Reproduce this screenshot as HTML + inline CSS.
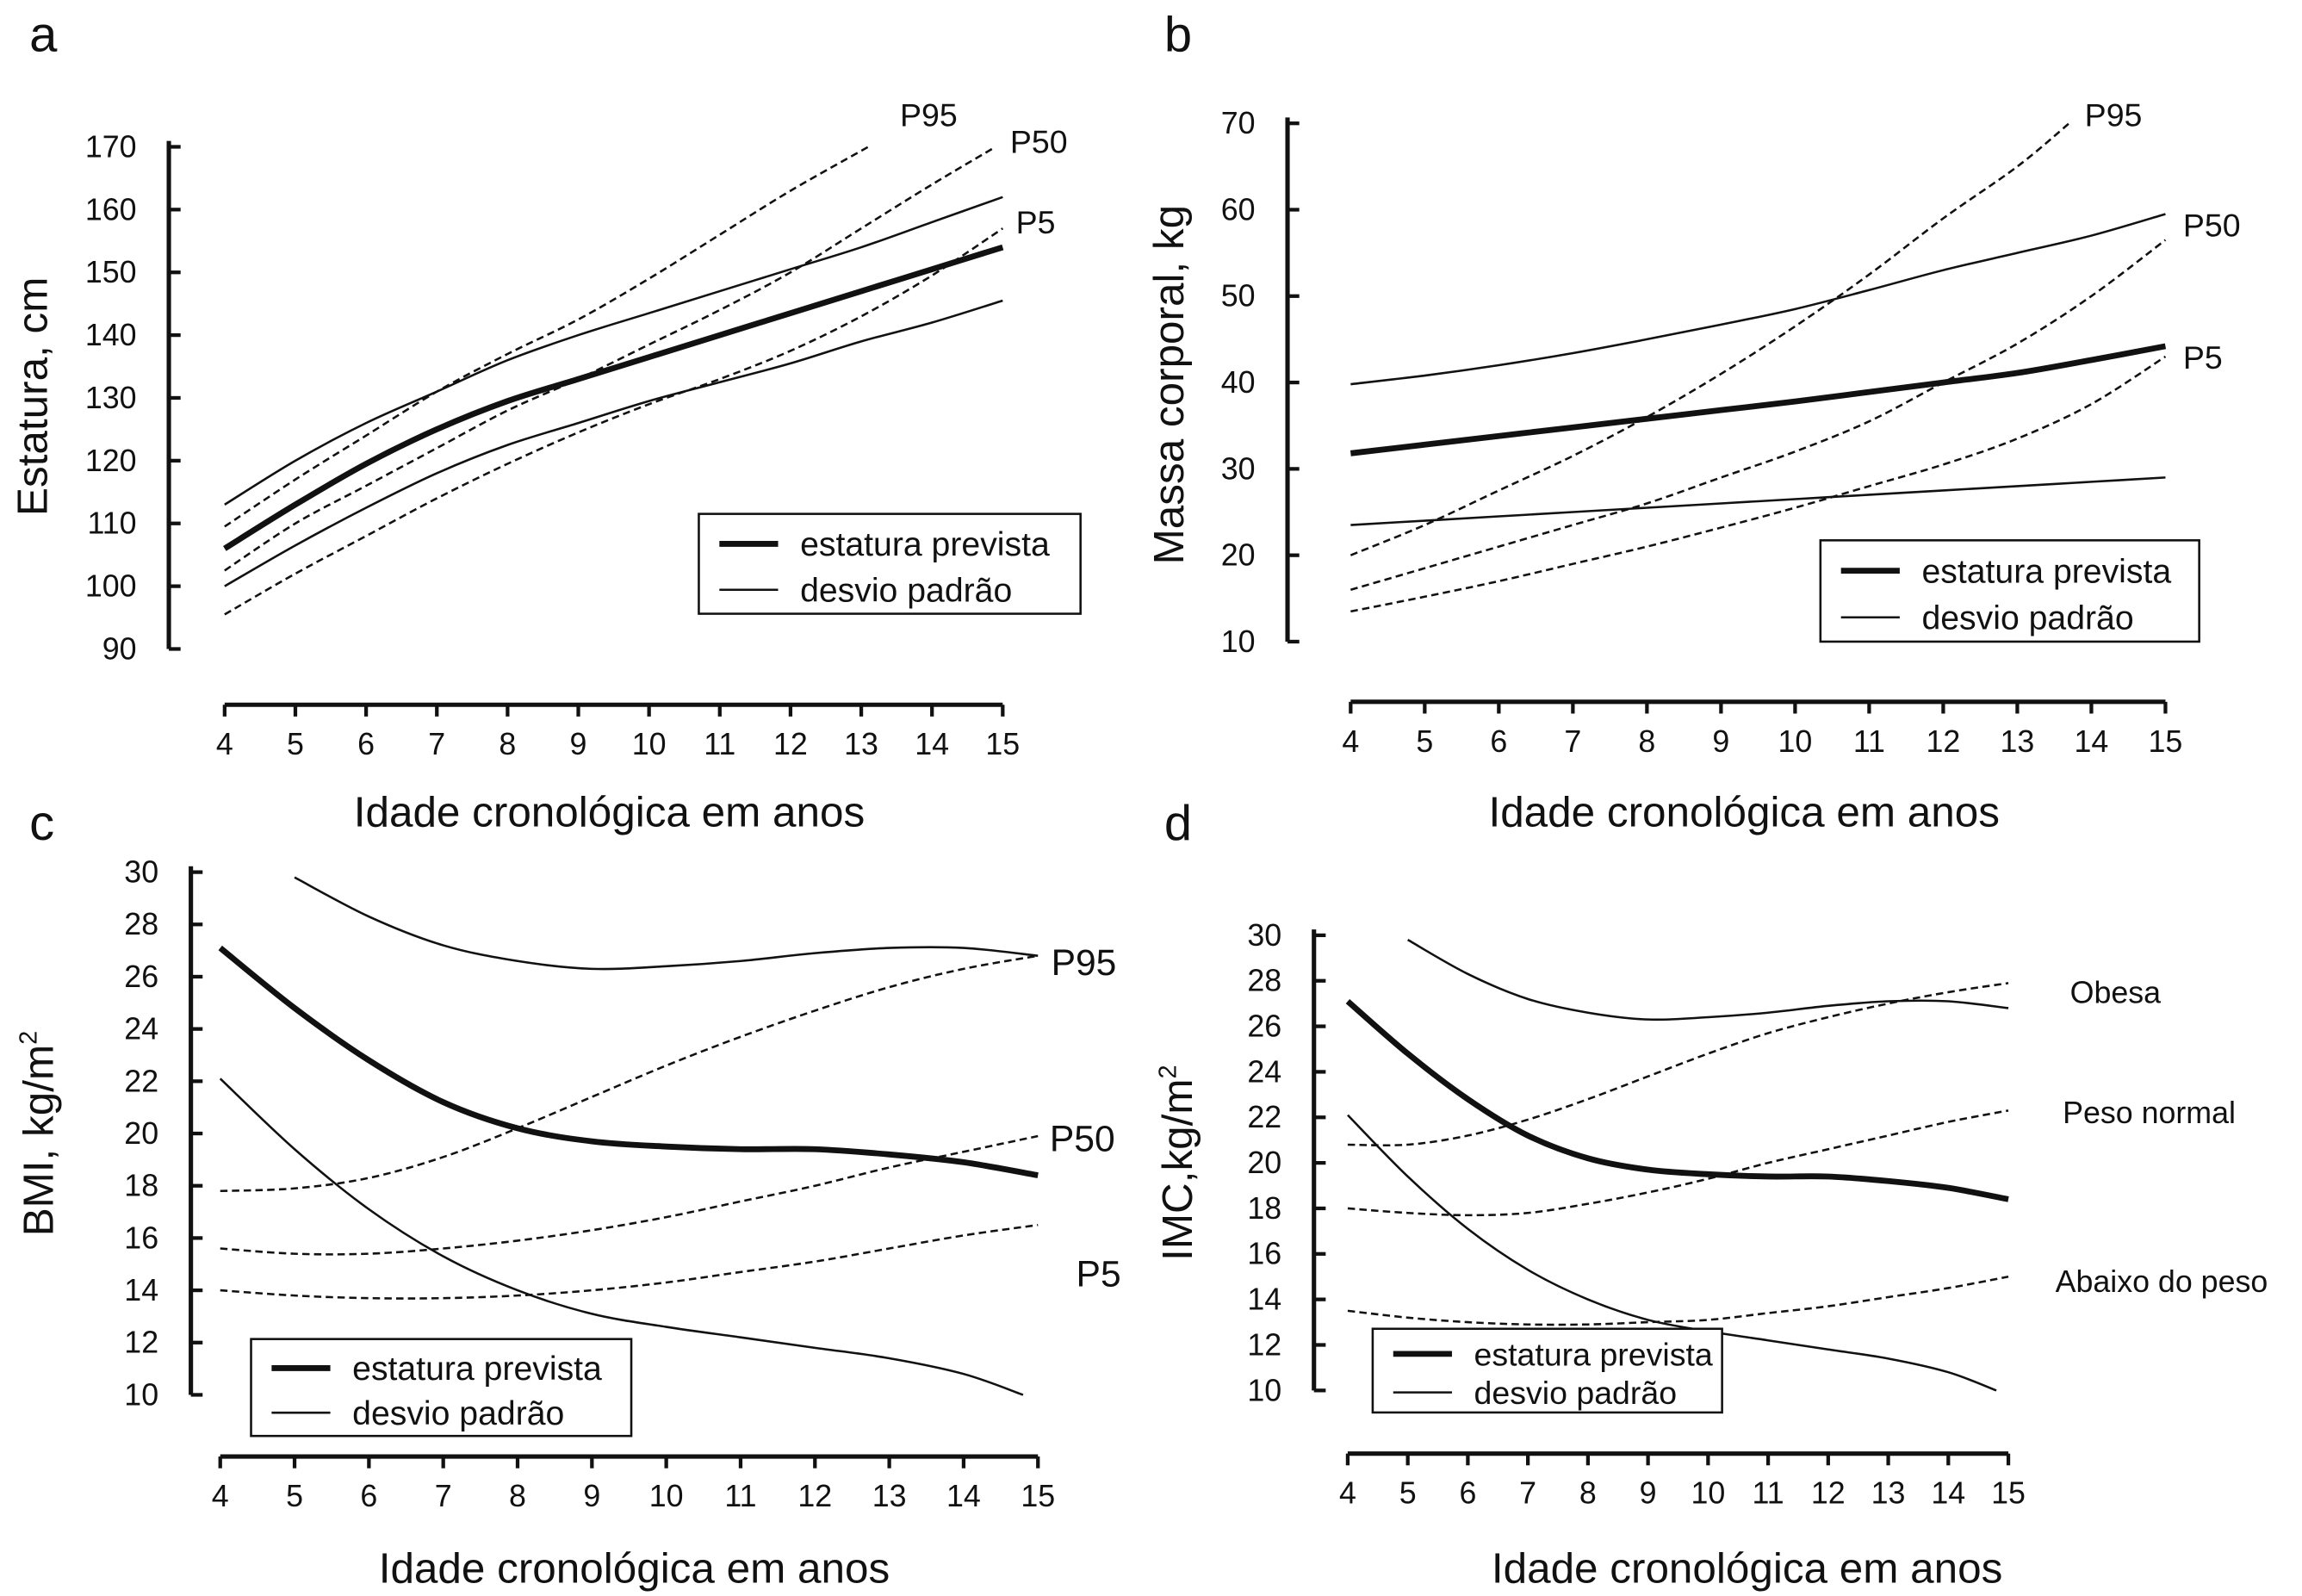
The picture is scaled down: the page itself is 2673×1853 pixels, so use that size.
<!DOCTYPE html>
<html><head><meta charset="utf-8"><style>
html,body{margin:0;padding:0;background:#fff}
svg{display:block}
text{font-family:"Liberation Sans",sans-serif;fill:#111}
</style></head><body>
<svg id="chart" width="2673" height="1853" viewBox="0 0 1568 1087" xmlns="http://www.w3.org/2000/svg"></svg>
<script>
// ---- data ----
const years = [4,5,6,7,8,9,10,11,12,13,14,15];
// panel a
const aMain = [106,113,119.5,125,129.5,133,136.5,140,143.5,147,150.5,154];
const aSdUp = [113,120,126,131,136,140,143.5,147,150.5,154,158,162];
const aSdLo = [100,106.5,112.5,118,122.5,126,129.5,132.5,135.5,139,142,145.5];
const aP95x = [4,5,6,7,8,9,10,11,12,13.1];
const aP95 = [109.5,117,124,131,137,142.5,149,156,163,170];
const aP50x = [4,5,6,7,8,9,10,11,12,13,14,14.9];
const aP50 = [102.5,110,116,122,128,133,138.5,144,150,157,164,170];
const aP5 = [95.5,102,108,114,119.5,124.5,129,133,137.5,143,149.5,157];
const aTicks = [90,100,110,120,130,140,150,160,170];
// panel b
const bMain = [31.8,32.8,33.8,34.8,35.8,36.8,37.8,38.9,40,41.1,42.6,44.2];
const bSdUp = [39.8,40.8,42,43.4,45,46.7,48.5,50.7,53,55,57,59.5];
const bSdLo = [23.5,24,24.5,25,25.5,26,26.5,27,27.5,28,28.5,29];
const bP95x = [4,5,6,7,8,9,10,11,12,13,13.7];
const bP95 = [20,23.5,27.5,31.5,36,41,46.5,52.5,59,65,70];
const bP50 = [16,18.5,21,23.5,26,29,32,35.5,40,44.5,50,56.5];
const bP5 = [13.5,15.2,17,19,21,23.2,25.5,28,30.5,33.5,37.5,43];
const bTicks = [10,20,30,40,50,60,70];
// panel c / d (BMI)
const cMain = [27.1,24.8,22.8,21.2,20.2,19.7,19.5,19.4,19.4,19.2,18.9,18.4];
const cSdUpx = [5,6,7,8,9,10,11,12,13,14,15];
const cSdUp = [29.8,28.3,27.2,26.6,26.3,26.4,26.6,26.9,27.1,27.1,26.8];
const cSdLox = [4,5,6,7,8,9,10,11,12,13,14,14.8];
const cSdLo = [22.1,19.4,17.1,15.3,14.0,13.1,12.6,12.2,11.8,11.4,10.8,10.0];
const cP95 = [17.8,17.9,18.3,19.1,20.2,21.4,22.6,23.7,24.7,25.6,26.3,26.8];
const cP50 = [15.6,15.4,15.4,15.6,15.9,16.3,16.8,17.4,18.0,18.7,19.3,19.9];
const cP5 = [14.0,13.8,13.7,13.7,13.8,14.0,14.3,14.7,15.1,15.6,16.1,16.5];
const cTicks = [10,12,14,16,18,20,22,24,26,28,30];
const dObesa = [20.8,20.8,21.2,21.9,22.8,23.8,24.8,25.7,26.4,27.0,27.5,27.9];
const dNormal = [18,17.8,17.7,17.8,18.2,18.7,19.3,20.0,20.6,21.2,21.8,22.3];
const dAbaixo = [13.5,13.2,13.0,12.9,12.9,13.0,13.1,13.4,13.7,14.1,14.5,15.0];

const NS="http://www.w3.org/2000/svg";
const svg=document.getElementById('chart');
function el(tag,attrs,parent){const e=document.createElementNS(NS,tag);for(const k in attrs)e.setAttribute(k,attrs[k]);(parent||svg).appendChild(e);return e;}
function txt(s,x,y,size,anchor,name,parent){const t=el('text',{x:x,y:y,'font-size':size,'text-anchor':anchor||'start'},parent);t.textContent=s;


return t;}
function smooth(pts){let d='M'+pts[0][0]+','+pts[0][1];for(let i=0;i<pts.length-1;i++){const p0=pts[i-1]||pts[i],p1=pts[i],p2=pts[i+1],p3=pts[i+2]||p2;
const c1=[p1[0]+(p2[0]-p0[0])/6,p1[1]+(p2[1]-p0[1])/6],c2=[p2[0]-(p3[0]-p1[0])/6,p2[1]-(p3[1]-p1[1])/6];
d+=' C'+c1[0]+','+c1[1]+' '+c2[0]+','+c2[1]+' '+p2[0]+','+p2[1];}return d;}

function panel(P){
  const g=el('g',{});
  
  
  const sx=v=>P.x0+(v-4)*(P.x1-P.x0)/11;
  const sy=v=>P.y0+(v-P.v0)*(P.y1-P.y0)/(P.v1-P.v0);
  const ya=el('line',{x1:P.ax,x2:P.ax,y1:sy(P.v1)-4,y2:sy(P.v0),stroke:'#111','stroke-width':3},g);
  
  
  P.ticks.forEach(t=>{
    el('line',{x1:P.ax,x2:P.ax+8,y1:sy(t),y2:sy(t),stroke:'#111','stroke-width':2.5},g);
    txt(String(t),P.ax-22,sy(t)+7,21,'end','y-tick-label',g);
  });
  const xa=el('line',{x1:sx(4),x2:sx(15),y1:P.xa,y2:P.xa,stroke:'#111','stroke-width':3},g);
  
  
  years.forEach(t=>{
    el('line',{x1:sx(t),x2:sx(t),y1:P.xa,y2:P.xa+8,stroke:'#111','stroke-width':2.5},g);
    txt(String(t),sx(t),P.xa+34,21,'middle','x-tick-label',g);
  });
  txt('Idade cronológica em anos',P.xtX,P.xtY,29,'middle','x-axis-title',g);
  const yt=txt(P.ytitle,0,0,29,'middle','y-axis-title',g);
  yt.setAttribute('transform','translate('+P.ytX+','+P.ytY+') rotate(-90)');
  if(P.sup){const s=el('tspan',{'font-size':17,dy:-11},yt);s.textContent='2';}
  txt(P.letter,P.lx,P.ly,34,'start','panel-letter',g);
  P.series.forEach(s=>{
    const xs=s.x||years;
    const pts=xs.map((x,i)=>[sx(x),sy(s.v[i])]);
    const p=el('path',{d:smooth(pts),fill:'none',stroke:'#111','stroke-width':s.w,'stroke-dasharray':s.dash?'5,3':'none'},g);
    
    
  });
  P.labels.forEach(l=>txt(l[0],l[1],l[2],l[3],'start','series-label',g));
  const L=P.legend;
  const lg=el('g',{},g);
  
  
  el('rect',{x:L[0],y:L[1],width:L[2],height:L[3],fill:'#fff',stroke:'#111','stroke-width':1.5},lg);
  const r1=L[1]+L[3]*0.3,r2=L[1]+L[3]*0.76;
  el('line',{x1:L[0]+14,x2:L[0]+54,y1:r1,y2:r1,stroke:'#111','stroke-width':4},lg);
  el('line',{x1:L[0]+14,x2:L[0]+54,y1:r2,y2:r2,stroke:'#111','stroke-width':1.5},lg);
  txt('estatura prevista',L[0]+69,r1+8,L[4]||23,'start','legend-entry',lg);
  txt('desvio padrão',L[0]+69,r2+8,L[4]||23,'start','legend-entry',lg);
}

panel({name:'panel-a-estatura',letter:'a',lx:20,ly:35,ax:115,x0:153,x1:683,xa:480,y0:442,y1:100,v0:90,v1:170,ticks:aTicks,
 xtX:415,xtY:563,ytitle:'Estatura, cm',ytX:32,ytY:270,
 series:[{name:'estatura-prevista-line',v:aMain,w:4},{name:'sd-upper-line',v:aSdUp,w:1.5},{name:'sd-lower-line',v:aSdLo,w:1.5},
  {name:'p95-line',x:aP95x,v:aP95,w:1.5,dash:1},{name:'p50-line',x:aP50x,v:aP50,w:1.5,dash:1},{name:'p5-line',v:aP5,w:1.5,dash:1}],
 labels:[['P95',613,86,22],['P50',688,104,22],['P5',692,159,22]],legend:[476,350,260,68,23]});
panel({name:'panel-b-massa',letter:'b',lx:793,ly:35,ax:877,x0:920,x1:1475,xa:478,y0:437,y1:84,v0:10,v1:70,ticks:bTicks,
 xtX:1188,xtY:563,ytitle:'Massa corporal, kg',ytX:806,ytY:262,
 series:[{name:'estatura-prevista-line',v:bMain,w:4},{name:'sd-upper-line',v:bSdUp,w:1.5},{name:'sd-lower-line',v:bSdLo,w:1.5},
  {name:'p95-line',x:bP95x,v:bP95,w:1.5,dash:1},{name:'p50-line',v:bP50,w:1.5,dash:1},{name:'p5-line',v:bP5,w:1.5,dash:1}],
 labels:[['P95',1420,86,22],['P50',1487,161,22],['P5',1487,251,22]],legend:[1240,368,258,69,23]});
panel({name:'panel-c-bmi',letter:'c',lx:20,ly:572,ax:130,x0:150,x1:707,xa:992,y0:950,y1:594,v0:10,v1:30,ticks:cTicks,
 xtX:432,xtY:1078,ytitle:'BMI, kg/m',sup:1,ytX:36,ytY:772,
 series:[{name:'estatura-prevista-line',v:cMain,w:4},{name:'sd-upper-line',x:cSdUpx,v:cSdUp,w:1.5},{name:'sd-lower-line',x:cSdLox,v:cSdLo,w:1.5},
  {name:'p95-line',v:cP95,w:1.5,dash:1},{name:'p50-line',v:cP50,w:1.5,dash:1},{name:'p5-line',v:cP5,w:1.5,dash:1}],
 labels:[['P95',716,664,25],['P50',715,784,25],['P5',733,876,25]],legend:[171,912,259,66,23]});
panel({name:'panel-d-imc',letter:'d',lx:793,ly:572,ax:895,x0:918,x1:1368,xa:990,y0:947,y1:637,v0:10,v1:30,ticks:cTicks,
 xtX:1190,xtY:1078,ytitle:'IMC,kg/m',sup:1,ytX:812,ytY:792,
 series:[{name:'estatura-prevista-line',v:cMain,w:4},{name:'sd-upper-line',x:cSdUpx,v:cSdUp,w:1.5},{name:'sd-lower-line',x:cSdLox,v:cSdLo,w:1.5},
  {name:'obesa-line',v:dObesa,w:1.5,dash:1},{name:'peso-normal-line',v:dNormal,w:1.5,dash:1},{name:'abaixo-do-peso-line',v:dAbaixo,w:1.5,dash:1}],
 labels:[['Obesa',1410,683,21],['Peso normal',1405,765,21],['Abaixo do peso',1400,880,21]],legend:[935,905,238,57,22]});
</script>
</body></html>
